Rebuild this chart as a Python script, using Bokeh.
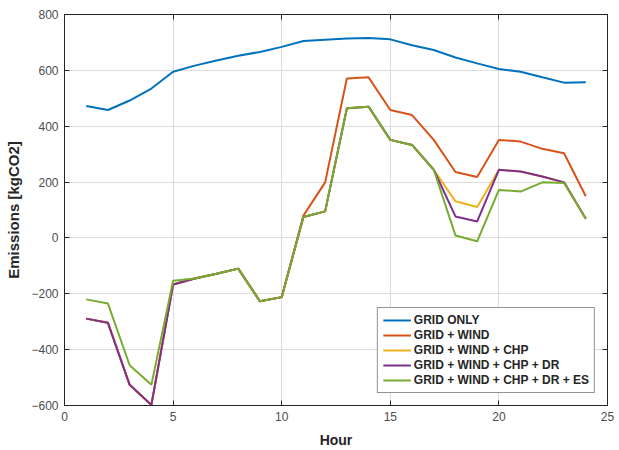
from bokeh.plotting import figure
from bokeh.models import LinearAxis, Legend, LegendItem, FixedTicker, Range1d, CustomJSTickFormatter
from bokeh.embed import file_html
from bokeh.resources import INLINE

hours = list(range(1, 25))
grid_only = [472, 458, 492, 535, 595, 617, 635, 652, 666, 684, 705, 710, 714, 716, 711, 690, 673, 646, 625, 605, 595, 575, 556, 557]
grid_wind = [-289, -304, -526, -598, -167, -145, -128, -110, -227, -212, 80, 199, 571, 575, 458, 440, 351, 236, 218, 351, 345, 319, 303, 149]
grid_wind_chp = [-289, -304, -526, -598, -167, -145, -128, -110, -227, -212, 75, 95, 464, 470, 351, 333, 244, 131, 111, 244, 238, 220, 199, 69]
grid_wind_chp_dr = [-289, -304, -526, -598, -167, -145, -128, -110, -227, -212, 75, 95, 464, 470, 351, 333, 244, 77, 59, 244, 238, 220, 199, 69]
grid_wind_chp_dr_es = [-220, -235, -456, -526, -153, -145, -128, -110, -227, -212, 75, 95, 464, 470, 351, 333, 244, 9, -12, 172, 166, 199, 197, 69]

labels = ["GRID ONLY", "GRID + WIND", "GRID + WIND + CHP", "GRID + WIND + CHP + DR", "GRID + WIND + CHP + DR + ES"]
series = [grid_only, grid_wind, grid_wind_chp, grid_wind_chp_dr, grid_wind_chp_dr_es]
colors = ["#0072BD", "#D95319", "#EDB120", "#7E2F8E", "#77AC30"]

x_ticks = [0, 5, 10, 15, 20, 25]
y_ticks = [-600, -400, -200, 0, 200, 400, 600, 800]

p = figure(width=619, height=450, output_backend="svg", toolbar_location=None,
           x_range=Range1d(0, 25), y_range=Range1d(-600, 800),
           min_border_left=64, min_border_right=12, min_border_top=14, min_border_bottom=44)
p.background_fill_color = "white"
p.border_fill_color = "white"
p.outline_line_color = "#262626"
p.outline_line_width = 1

font = "Liberation Sans"
for ax in [p.xaxis[0], p.yaxis[0]]:
    ax.major_tick_in = 5
    ax.major_tick_out = 0
    ax.minor_tick_in = 0
    ax.minor_tick_out = 0
    ax.axis_line_color = "#262626"
    ax.major_tick_line_color = "#262626"
    ax.major_label_text_font = font
    ax.major_label_text_font_size = "12px"
    ax.major_label_text_color = "#4d4d4d"
    ax.axis_label_text_font = font
    ax.axis_label_text_font_style = "bold"
    ax.axis_label_text_color = "#262626"

p.xaxis[0].ticker = FixedTicker(ticks=x_ticks)
p.yaxis[0].ticker = FixedTicker(ticks=y_ticks)
p.xaxis[0].axis_label = "Hour"
p.yaxis[0].axis_label = "Emissions [kgCO2]"
p.xaxis[0].axis_label_text_font_size = "14px"
p.yaxis[0].axis_label_text_font_size = "15px"
p.xaxis[0].major_label_standoff = 6
p.yaxis[0].major_label_standoff = 6
p.xaxis[0].axis_label_standoff = 8
p.yaxis[0].axis_label_standoff = 6

blank = CustomJSTickFormatter(code="return '';")
top = LinearAxis(ticker=FixedTicker(ticks=x_ticks), formatter=blank, major_tick_in=5, major_tick_out=0,
                 minor_tick_in=0, minor_tick_out=0, major_label_standoff=0,
                 axis_line_color="#262626", major_tick_line_color="#262626")
right = LinearAxis(ticker=FixedTicker(ticks=y_ticks), formatter=blank, major_tick_in=5, major_tick_out=0,
                   minor_tick_in=0, minor_tick_out=0, major_label_standoff=0,
                   axis_line_color="#262626", major_tick_line_color="#262626")
p.add_layout(top, "above")
p.add_layout(right, "right")

p.xgrid.ticker = FixedTicker(ticks=x_ticks)
p.ygrid.ticker = FixedTicker(ticks=y_ticks)
p.xgrid.grid_line_color = "#dcdcdc"
p.ygrid.grid_line_color = "#dcdcdc"

items = []
for lab, ys, c in zip(labels, series, colors):
    r = p.line(hours, ys, line_color=c, line_width=2)
    items.append(LegendItem(label=lab, renderers=[r]))

legend = Legend(items=items, location="bottom_right")
legend.border_line_color = "#262626"
legend.border_line_width = 1
legend.label_text_font = font
legend.label_text_font_style = "bold"
legend.label_text_font_size = "12px"
legend.label_text_color = "#262626"
legend.glyph_width = 28
legend.glyph_height = 14
legend.label_height = 14
legend.spacing = 1
legend.padding = 5
legend.label_standoff = 3
legend.margin = 12
p.add_layout(legend)

open("out.html", "w").write(file_html(p, INLINE))
